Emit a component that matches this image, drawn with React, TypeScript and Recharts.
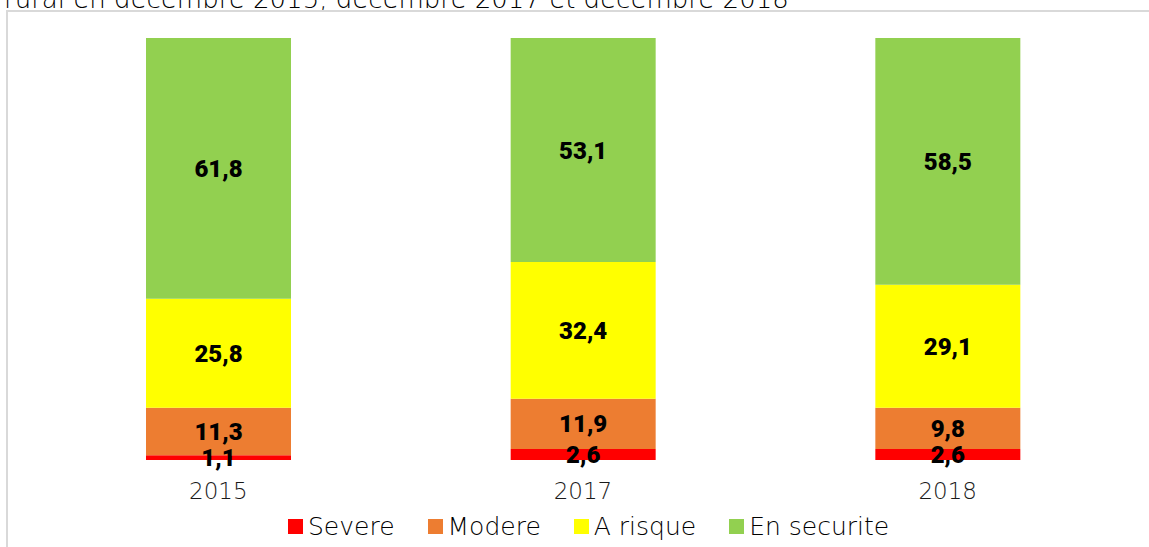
import React from 'react';
import { BarChart, Bar, XAxis, YAxis, LabelList } from 'recharts';

const years = ['2015', '2017', '2018'];
const severe = [1.1, 2.6, 2.6];
const modere = [11.3, 11.9, 9.8];
const aRisque = [25.8, 32.4, 29.1];
const enSecurite = [61.8, 53.1, 58.5];
const seriesNames = ['Severe', 'Modere', 'A risque', 'En securite'];
const seriesKeys = ['severe', 'modere', 'aRisque', 'enSecurite'];
const seriesColors = ['#FF0000', '#ED7D31', '#FFFF00', '#92D050'];
const boundaryTicks = [0, 1, 2, 3];
const titleText = 'rural en decembre 2015, decembre 2017 et decembre 2018';

const data = years.map((y, i) => ({
  year: y,
  idx: i + 0.5,
  severe: severe[i],
  modere: modere[i],
  aRisque: aRisque[i],
  enSecurite: enSecurite[i],
}));

const FONT = "'DejaVu Sans', sans-serif";
const fmt = (v: any) => String(v).replace('.', ',');

export default function App() {
  return (
    <div style={{ position: 'fixed', left: 0, top: 0, width: 1149, height: 547, overflow: 'hidden', background: '#fff' }}>
      <div style={{ position: 'absolute', left: 4, top: -14, fontFamily: FONT, fontWeight: 300, fontSize: 26, lineHeight: '26px', color: '#000', whiteSpace: 'nowrap' }}>
        {titleText}
      </div>
      <div style={{ position: 'absolute', left: 6, top: 10, width: 1300, height: 700, border: '2px solid #d9d9d9', boxSizing: 'border-box' }} />
      <div style={{ position: 'absolute', left: 0, top: 0 }}>
        <BarChart width={1149} height={547} data={data} margin={{ top: 38, left: 36, right: 19, bottom: 57 }} barSize={145}>
          <XAxis
            xAxisId="bound"
            type="number"
            dataKey="idx"
            domain={[0, 3]}
            ticks={boundaryTicks}
            height={0}
            axisLine={{ stroke: '#a6a6a6', strokeWidth: 1.5 }}
            tickLine={{ stroke: '#a6a6a6', strokeWidth: 1.5 }}
            tickSize={8}
            tick={() => <g />}
          />
          <XAxis
            xAxisId="cat"
            dataKey="year"
            height={30}
            axisLine={false}
            tickLine={false}
            tickMargin={17}
            tick={{ fontFamily: FONT, fontWeight: 300, fontSize: 23, fill: '#1a1a1a' }}
          />
          <YAxis hide domain={[0, 100]} />
          {seriesKeys.map((k, i) => (
            <Bar key={k} dataKey={k} stackId="s" xAxisId="cat" fill={seriesColors[i]} isAnimationActive={false}>
              <LabelList dataKey={k} position="center" formatter={fmt} style={{ fontFamily: "'Roboto', sans-serif", fontWeight: 900, fontSize: 24, fill: '#000' }} />
            </Bar>
          ))}
        </BarChart>
      </div>
      <div style={{ position: 'absolute', left: 288, top: 512, display: 'flex', alignItems: 'center', fontFamily: FONT, fontWeight: 300, fontSize: 25, color: '#000', whiteSpace: 'nowrap' }}>
        {seriesNames.map((n, i) => (
          <div key={n} style={{ display: 'flex', alignItems: 'center', marginRight: 33 }}>
            <span style={{ display: 'inline-block', width: 15, height: 15, background: seriesColors[i], marginRight: 5 }} />
            <span>{n}</span>
          </div>
        ))}
      </div>
    </div>
  );
}
